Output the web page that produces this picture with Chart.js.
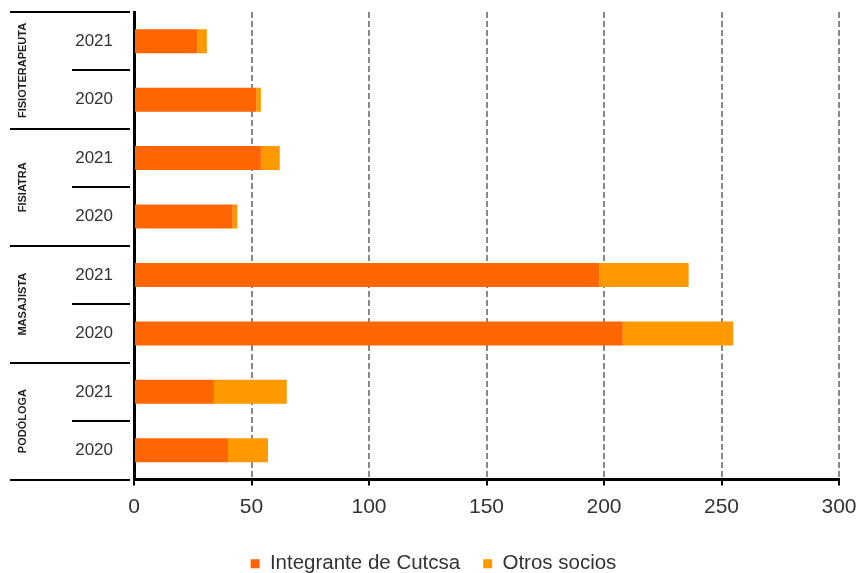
<!DOCTYPE html>
<html>
<head>
<meta charset="utf-8">
<script src="https://cdn.jsdelivr.net/npm/chart.js@4"></script>
<style>
  html, body { margin: 0; padding: 0; background: #fff; overflow: hidden; }
  #wrap { width: 862px; height: 584px; position: relative; }
</style>
</head>
<body>
<div id="wrap"><canvas id="chart"></canvas></div>
<script>
// categories (top to bottom), two years each
const categories = ["FISIOTERAPEUTA", "FISIATRA", "MASAJISTA", "PODÓLOGA"];
const years = ["2021", "2020"];
const rowLabels = ["2021", "2020", "2021", "2020", "2021", "2020", "2021", "2020"];

// series values, same order as rowLabels
const integrante = [27, 52, 54, 42, 198, 208, 34, 40];
const otros = [4, 2, 8, 2, 38, 47, 31, 17];

const xTicks = [0, 50, 100, 150, 200, 250, 300];

const FONT = "'Liberation Sans', Arial, sans-serif";

// draws year labels, grouped category labels and the row separators on the left
const groupLabels = {
  id: "groupLabels",
  afterLayout(chart) {
    // Chart.js counts the trailing item padding when centering; nudge back
    if (chart.legend) {
      chart.legend.left += 14;
      chart.legend.right += 14;
    }
  },
  afterDraw(chart) {
    const ctx = chart.ctx;
    const y = chart.scales.y;
    const area = chart.chartArea;
    const n = rowLabels.length;
    const step = (y.getPixelForValue(n - 1) - y.getPixelForValue(0)) / (n - 1);
    const edge = (i) => y.getPixelForValue(0) - step / 2 + i * step;

    ctx.save();
    ctx.strokeStyle = "#000";
    ctx.lineWidth = 2;
    for (let i = 0; i <= n; i++) {
      const py = Math.round(edge(i));
      const x0 = i % years.length === 0 ? 10 : 72;
      ctx.beginPath();
      ctx.moveTo(x0, py);
      ctx.lineTo(area.left - 4, py);
      ctx.stroke();
    }

    // year labels
    ctx.fillStyle = "#333";
    ctx.font = "17px " + FONT;
    ctx.textAlign = "right";
    ctx.textBaseline = "middle";
    rowLabels.forEach((lab, i) => {
      ctx.fillText(lab, 113, y.getPixelForValue(i));
    });

    // rotated category labels
    ctx.fillStyle = "#222";
    ctx.font = "bold 11px " + FONT;
    ctx.textAlign = "center";
    categories.forEach((c, k) => {
      const cy = (edge(k * years.length) + edge((k + 1) * years.length)) / 2;
      ctx.save();
      ctx.translate(23, cy);
      ctx.rotate(-Math.PI / 2);
      ctx.fillText(c, 0, 0);
      ctx.restore();
    });
    ctx.restore();
  }
};

const ctx = document.getElementById("chart").getContext("2d");
new Chart(ctx, {
  type: "bar",
  data: {
    labels: rowLabels,
    datasets: [
      {
        label: "Integrante de Cutcsa",
        data: integrante,
        backgroundColor: "#FF6600",
        borderWidth: 0
      },
      {
        label: "Otros socios",
        data: otros,
        backgroundColor: "#FF9900",
        borderWidth: 0
      }
    ]
  },
  options: {
    indexAxis: "y",
    responsive: true,
    maintainAspectRatio: false,
    animation: false,
    layout: { padding: { top: 12, right: 23, left: 0, bottom: 0 } },
    datasets: {
      bar: { categoryPercentage: 1, barPercentage: 0.41 }
    },
    scales: {
      x: {
        stacked: true,
        min: 0,
        max: 300,
        afterBuildTicks: (s) => { s.ticks = xTicks.map((v) => ({ value: v })); },
        afterFit: (s) => {
          s.height = 51;
          s.paddingLeft = 0;
          s.paddingRight = 0;
        },
        grid: {
          color: "#888",
          lineWidth: 2,
          tickColor: "#000",
          tickWidth: 2,
          tickLength: 6,
          tickBorderDash: []
        },
        border: { display: true, color: "#000", width: 3, dash: [6, 3] },
        ticks: {
          color: "#333",
          padding: 9,
          font: { size: 21, family: FONT }
        }
      },
      y: {
        stacked: true,
        afterFit: (s) => { s.width = 134; },
        grid: { display: false, drawTicks: false },
        border: { display: true, color: "#000", width: 3 },
        ticks: { display: false }
      }
    },
    plugins: {
      tooltip: { enabled: false },
      legend: {
        position: "bottom",
        labels: {
          boxWidth: 9,
          boxHeight: 9,
          padding: 23,
          color: "#333",
          font: { size: 20.5, family: FONT }
        }
      }
    }
  },
  plugins: [groupLabels]
});
</script>
</body>
</html>
